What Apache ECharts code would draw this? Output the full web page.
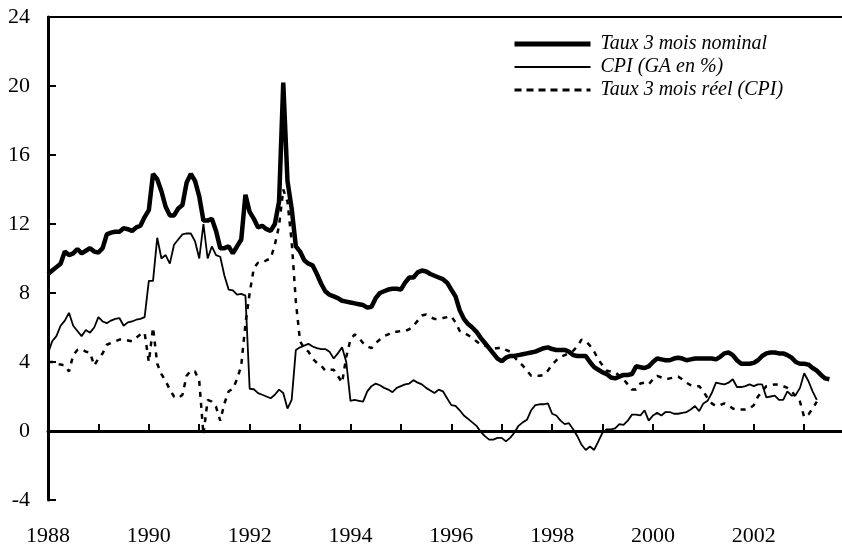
<!DOCTYPE html>
<html>
<head>
<meta charset="utf-8">
<script src="https://cdn.jsdelivr.net/npm/echarts@6/dist/echarts.min.js"></script>
<style>
  html, body { margin: 0; padding: 0; background: #fff; }
  #chart { width: 842px; height: 549px; }
</style>
</head>
<body>
<div id="chart"></div>
<script>
// mois de janvier 1988 à octobre 2003 (axe en catégories)
var months = [];
for (var y = 1988; y <= 2003; y++) {
  for (var k = 1; k <= 12; k++) {
    if (y === 2003 && k > 10) break;
    months.push(y + '-' + (k < 10 ? '0' + k : k));
  }
}

// Taux 3 mois nominal
var nominal = [
  9.1, 9.3, 9.5, 9.7, 10.4, 10.2, 10.3, 10.55, 10.3, 10.45, 10.6, 10.4,
  10.35, 10.6, 11.4, 11.5, 11.55, 11.55, 11.75, 11.7, 11.6, 11.8, 11.9, 12.4,
  12.8, 14.9, 14.6, 13.9, 13.0, 12.5, 12.5, 12.9, 13.1, 14.4, 14.9, 14.5,
  13.6, 12.2, 12.2, 12.3, 11.6, 10.6, 10.6, 10.7, 10.3, 10.7, 11.1, 13.7,
  12.7, 12.3, 11.8, 11.9, 11.7, 11.6, 12.0, 13.3, 20.2, 14.5, 12.9, 10.7,
  10.4, 9.9, 9.7, 9.6, 9.1, 8.55, 8.1, 7.9, 7.8, 7.7, 7.55, 7.5,
  7.45, 7.4, 7.35, 7.3, 7.15, 7.2, 7.7, 8.0, 8.1, 8.2, 8.25, 8.25,
  8.2, 8.6, 8.9, 8.9, 9.2, 9.3, 9.25, 9.1, 9.0, 8.9, 8.8, 8.6,
  8.2, 7.8, 7.0, 6.5, 6.2, 6.0, 5.75, 5.4, 5.1, 4.8, 4.5, 4.2,
  4.05, 4.25, 4.35, 4.35, 4.4, 4.45, 4.5, 4.55, 4.6, 4.7, 4.8, 4.85,
  4.75, 4.7, 4.7, 4.7, 4.6, 4.4, 4.35, 4.35, 4.35, 4.0, 3.7, 3.55,
  3.4, 3.3, 3.1, 3.05, 3.15, 3.25, 3.25, 3.3, 3.75, 3.7, 3.65, 3.75,
  4.0, 4.2, 4.15, 4.1, 4.1, 4.2, 4.25, 4.2, 4.1, 4.15, 4.2, 4.2,
  4.2, 4.2, 4.2, 4.15, 4.3, 4.5, 4.55, 4.4, 4.1, 3.9, 3.9, 3.9,
  3.95, 4.1, 4.35, 4.5, 4.55, 4.55, 4.5, 4.5, 4.4, 4.25, 4.0, 3.9,
  3.9, 3.85, 3.65, 3.5, 3.25, 3.05, 3.0
];

// CPI, glissement annuel en %
var cpi = [
  4.5, 5.2, 5.5, 6.1, 6.4, 6.85, 6.1, 5.8, 5.5, 5.85, 5.7, 6.0,
  6.6, 6.35, 6.25, 6.4, 6.5, 6.55, 6.1, 6.3, 6.35, 6.45, 6.5, 6.6,
  8.7, 8.7, 11.2, 10.0, 10.2, 9.7, 10.8, 11.1, 11.4, 11.45, 11.45, 11.0,
  10.0, 12.0, 10.0, 10.7, 10.2, 10.1, 9.0, 8.2, 8.15, 7.9, 7.95, 7.85,
  2.45, 2.42, 2.2, 2.1, 2.0, 1.9, 2.1, 2.4, 2.2, 1.3, 1.8, 4.7,
  4.85, 4.95, 5.05, 4.9, 4.8, 4.75, 4.75, 4.6, 4.2, 4.5, 4.85, 4.0,
  1.75, 1.8, 1.75, 1.7, 2.3, 2.6, 2.75, 2.65, 2.5, 2.4, 2.25, 2.5,
  2.6, 2.7, 2.75, 2.95, 2.8, 2.7, 2.5, 2.35, 2.2, 2.4, 2.3, 1.9,
  1.5, 1.45, 1.2, 0.9, 0.7, 0.5, 0.3, -0.05, -0.3, -0.5, -0.5, -0.4,
  -0.4, -0.6, -0.4, -0.1, 0.3, 0.5, 0.65, 1.2, 1.5, 1.55, 1.55, 1.6,
  1.0, 0.9, 0.6, 0.4, 0.45, 0.1, -0.3, -0.8, -1.1, -0.9, -1.1, -0.6,
  -0.1, 0.1, 0.1, 0.15, 0.4, 0.35, 0.6, 0.95, 0.95, 0.9, 1.2, 0.6,
  0.9, 1.05, 0.9, 1.1, 1.1, 1.0, 1.0, 1.05, 1.1, 1.25, 1.45, 1.15,
  1.6, 1.75, 2.2, 2.8, 2.75, 2.7, 2.8, 3.0, 2.55, 2.55, 2.6, 2.7,
  2.6, 2.7, 2.7, 1.95, 2.0, 2.05, 1.8, 1.8, 2.3, 2.05, 2.1, 2.5,
  3.35, 2.9, 2.3, 1.8
];

// Taux 3 mois réel (CPI)
var reel = [
  4.0, 4.0, 3.9, 3.85, 3.8, 3.45, 4.4, 4.7, 4.75, 4.6, 4.55, 3.8,
  4.2, 4.5, 5.0, 5.1, 5.2, 5.3, 5.3, 5.25, 5.2, 5.4, 5.6, 5.7,
  4.0, 6.0, 3.9, 3.3, 2.9, 2.4, 2.0, 1.9, 2.1, 3.2, 3.5, 3.45,
  2.9, -0.2, 1.8, 1.7, 1.4, 0.6, 1.6, 2.3, 2.45, 3.0, 3.8, 6.2,
  8.0, 9.45, 9.75, 9.75, 9.9, 10.0, 10.8, 11.9, 14.0, 13.3, 11.0, 7.5,
  5.2, 4.8, 4.6, 4.2, 3.95, 3.8, 3.5, 3.55, 3.55, 3.2, 2.8, 4.3,
  5.3, 5.6, 5.4, 5.1, 4.9, 4.8, 5.1, 5.3, 5.5, 5.6, 5.75, 5.75,
  5.8, 5.8, 5.9, 6.1, 6.4, 6.7, 6.75, 6.6, 6.5, 6.5, 6.55, 6.6,
  6.65, 6.3, 5.8, 5.7, 5.55, 5.4, 5.2, 5.0, 4.95, 4.85, 4.8, 4.8,
  4.85, 4.7, 4.6, 4.3, 4.0, 3.8, 3.5, 3.2, 3.2, 3.2, 3.25, 3.5,
  3.85, 4.1, 4.3, 4.4, 4.5, 4.65, 4.9, 5.3, 5.2, 4.95, 4.6, 4.15,
  3.8, 3.5, 3.45, 3.4, 3.2, 3.0, 2.7, 2.4, 2.4, 2.75, 2.8, 2.7,
  3.0, 3.2, 3.1, 3.0, 3.05, 3.1, 3.15, 3.0, 2.8, 2.65, 2.6, 2.6,
  2.3, 1.9, 1.6, 1.45, 1.5, 1.6, 1.5, 1.3, 1.25, 1.25, 1.25, 1.3,
  1.5, 2.0, 2.3, 2.6, 2.65, 2.7, 2.7, 2.6, 2.5, 2.3, 2.0, 1.7,
  0.8, 0.95, 1.3, 1.7
];

var names = ['Taux 3 mois nominal', 'CPI (GA en %)', 'Taux 3 mois réel (CPI)'];
var yTicks = { min: -4, max: 24, step: 4 };

var font = 'Liberation Serif, Times New Roman, serif';
var chart = echarts.init(document.getElementById('chart'));

// pas de rond dans la légende, seulement le trait
var noDot = { opacity: 0, borderWidth: 0 };

var option = {
  animation: false,
  backgroundColor: '#fff',
  grid: { left: 48, right: 0, top: 17, bottom: 49 },
  legend: {
    orient: 'vertical',
    left: 512,
    top: 34,
    padding: 0,
    itemWidth: 76,
    itemHeight: 14,
    itemGap: 3,
    textStyle: { fontFamily: font, fontStyle: 'italic', fontSize: 20, color: '#000', padding: [0, 0, 0, 5] },
    data: [
      { name: names[0], itemStyle: noDot, lineStyle: { width: 5, color: '#000' } },
      { name: names[1], itemStyle: noDot, lineStyle: { width: 2, color: '#000' } },
      { name: names[2], itemStyle: noDot, lineStyle: { width: 3, color: '#000', type: [7, 5] } }
    ]
  },
  xAxis: [
    {
      type: 'category',
      data: months,
      boundaryGap: false,
      axisLine: { lineStyle: { color: '#000', width: 3 } },
      axisTick: {
        inside: true, length: 7,
        lineStyle: { color: '#000', width: 2 },
        interval: function (i) { return i % 12 === 0; }
      },
      axisLabel: {
        interval: function (i) { return i % 24 === 0; },
        formatter: function (v) { return v.slice(0, 4); },
        fontFamily: font, fontSize: 22, color: '#000', margin: 25
      },
      splitLine: { show: false }
    },
    {
      type: 'value', position: 'top', min: 0, max: 1,
      axisLine: { show: true, onZero: false, lineStyle: { color: '#000', width: 2 } },
      axisTick: { show: false }, axisLabel: { show: false }, splitLine: { show: false }
    }
  ],
  yAxis: {
    type: 'value',
    min: yTicks.min, max: yTicks.max, interval: yTicks.step,
    axisLine: { show: true, onZero: false, lineStyle: { color: '#000', width: 3 } },
    axisTick: { show: true, inside: true, length: 8, lineStyle: { color: '#000', width: 2 } },
    axisLabel: { fontFamily: font, fontSize: 22, color: '#000', margin: 18 },
    splitLine: { show: false }
  },
  series: [
    {
      name: names[0], type: 'line', data: nominal, symbol: 'none', z: 4,
      lineStyle: { color: '#000', width: 4.5 }, itemStyle: { color: '#000' }
    },
    {
      name: names[1], type: 'line', data: cpi, symbol: 'none', z: 3,
      lineStyle: { color: '#000', width: 1.8 }, itemStyle: { color: '#000' },
      markLine: {
        silent: true, symbol: ['none', 'none'], label: { show: false },
        lineStyle: { color: '#000', width: 2, type: [2, 2] },
        data: [{ yAxis: 0 }]
      }
    },
    {
      name: names[2], type: 'line', data: reel, symbol: 'none', z: 2,
      lineStyle: { color: '#000', width: 2.5, type: [5, 6] }, itemStyle: { color: '#000' }
    }
  ]
};

chart.setOption(option);
</script>
</body>
</html>
